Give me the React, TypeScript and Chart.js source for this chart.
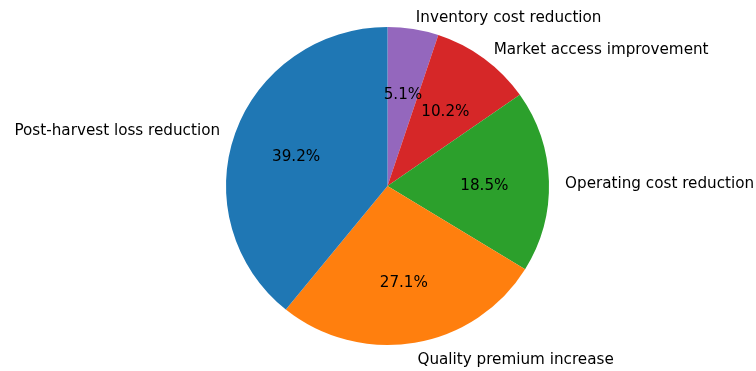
import React, { useEffect, useRef } from "react";
import { Chart, registerables } from "chart.js";

Chart.register(...registerables);

// Chart.js draws clockwise from the top, so order is reversed vs matplotlib CCW
const categories = [
  "Inventory cost reduction",
  "Market access improvement",
  "Operating cost reduction",
  "Quality premium increase",
  "Post-harvest loss reduction",
];
const shares = [5.1, 10.2, 18.5, 27.1, 39.2];
const colors = ["#9467bd", "#d62728", "#2ca02c", "#ff7f0e", "#1f77b4"];

const Y_SCALE = 159 / 161.5;
const FONT = "15.2px 'DejaVu Sans'";

const ellipsePlugin = {
  id: "ellipse",
  beforeDatasetsDraw(chart: any) {
    const arc = chart.getDatasetMeta(0).data[0];
    if (!arc) return;
    const ctx = chart.ctx;
    ctx.save();
    ctx.translate(arc.x, arc.y);
    ctx.scale(1, Y_SCALE);
    ctx.translate(-arc.x, -arc.y);
  },
  afterDatasetsDraw(chart: any) {
    const ctx = chart.ctx;
    ctx.restore();
    const meta = chart.getDatasetMeta(0);
    const values = chart.data.datasets[0].data as number[];
    const labels = chart.data.labels as string[];
    ctx.save();
    ctx.font = FONT;
    ctx.fillStyle = "#000";
    meta.data.forEach((el: any, i: number) => {
      const mid = (el.startAngle + el.endAngle) / 2;
      const R = el.outerRadius;
      const cx = el.x;
      const cy = el.y + 3;
      const c = Math.cos(mid);
      const s = Math.sin(mid);
      // outer label
      const lx = cx + c * R * 1.1;
      const ly = cy + s * R * 1.1 * Y_SCALE * 0.992;
      ctx.textAlign = c > 0 ? "left" : "right";
      ctx.textBaseline = "middle";
      ctx.fillText(labels[i], lx, ly);
      // percentage
      const px = cx + c * R * 0.6;
      const py = cy + s * R * 0.6 * Y_SCALE;
      ctx.textAlign = "center";
      ctx.fillText(values[i].toFixed(1) + "%", px, py);
    });
    ctx.restore();
  },
};

export default function App() {
  const ref = useRef<HTMLCanvasElement>(null);
  useEffect(() => {
    if (!ref.current) return;
    const chart = new Chart(ref.current, {
      type: "pie",
      data: {
        labels: categories,
        datasets: [
          {
            data: shares,
            backgroundColor: colors,
            borderWidth: 0,
            hoverOffset: 0,
          },
        ],
      },
      options: {
        responsive: false,
        animation: false,
        rotation: 0,
        layout: { padding: { left: 226, right: 207, top: 24.5, bottom: 23.5 } },
        plugins: {
          legend: { display: false },
          tooltip: { enabled: false },
        },
      },
      plugins: [ellipsePlugin],
    });
    return () => chart.destroy();
  }, []);
  return (
    <div style={{ position: "fixed", left: 0, top: 0, width: 756, height: 371, background: "#fff" }}>
      <canvas ref={ref} width={756} height={371} style={{ display: "block" }} />
    </div>
  );
}
